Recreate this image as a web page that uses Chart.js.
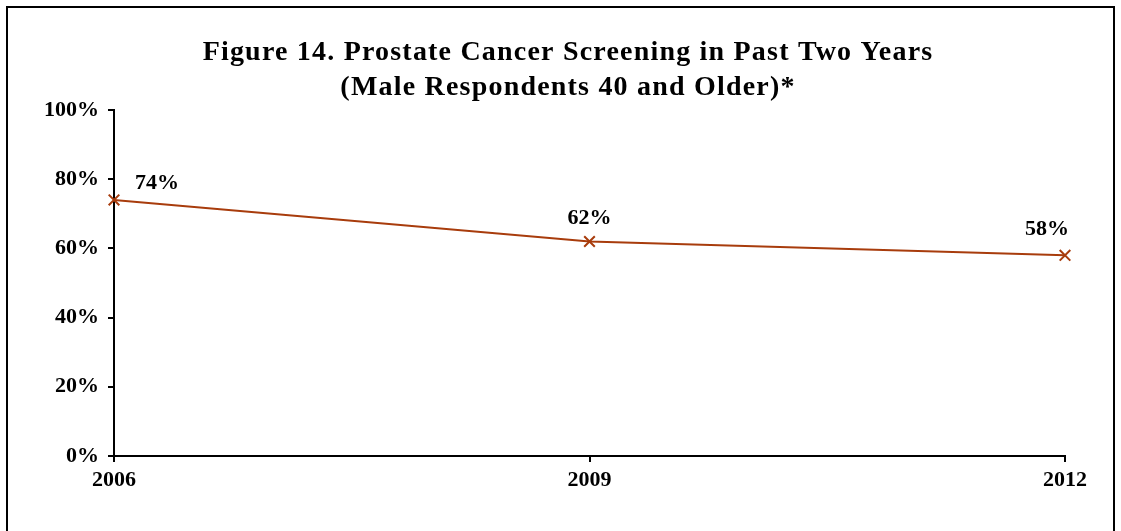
<!DOCTYPE html>
<html>
<head>
<meta charset="utf-8">
<script src="https://cdn.jsdelivr.net/npm/chart.js@4"></script>
<style>
  html, body { margin: 0; padding: 0; background: #fff; }
  #wrap { width: 1121px; height: 531px; position: relative; }
</style>
</head>
<body>
<div id="wrap"><canvas id="chart-prostate" width="1121" height="531"></canvas></div>
<script>
const years = ["2006", "2009", "2012"];
const screened = [74, 62, 58];
const yTicks = [0, 20, 40, 60, 80, 100];
const titleLines = ["Figure 14. Prostate Cancer Screening in Past Two Years", "(Male Respondents 40 and Older)*"];

const serif = "'Liberation Serif', 'Times New Roman', serif";
const lineColor = "#A83C0C";

// label offsets from each point (px)
const labelShift = [[43, -17], [0, -23], [-18, -26]];

const titleBlock = {
    id: "titleBlock",
    afterDraw(chart) {
        const ctx = chart.ctx;
        ctx.save();
        ctx.font = "bold 28px " + serif;
        ctx.letterSpacing = "1.2px";
        ctx.fillStyle = "#000";
        ctx.textAlign = "center";
        ctx.textBaseline = "middle";
        ctx.fillText(titleLines[0], 568, 53);
        ctx.fillText(titleLines[1], 568, 88);
        ctx.restore();
    },
};

const pointLabels = {
    id: "pointLabels",
    afterDatasetsDraw(chart) {
        const ctx = chart.ctx;
        const meta = chart.getDatasetMeta(0);
        ctx.save();
        ctx.font = "bold 22px " + serif;
        ctx.fillStyle = "#000";
        ctx.textAlign = "center";
        ctx.textBaseline = "middle";
        meta.data.forEach((pt, i) => {
            ctx.fillText(screened[i] + "%", pt.x + labelShift[i][0], pt.y + labelShift[i][1]);
        });
        ctx.restore();
    },
};

const frame = {
    id: "frame",
    afterDraw(chart) {
        const ctx = chart.ctx;
        ctx.save();
        ctx.strokeStyle = "#000";
        ctx.lineWidth = 2;
        ctx.strokeRect(7, 7, 1107, 540);
        ctx.restore();
    },
};

const data = {
    labels: years,
    datasets: [
        {
            label: "Screened",
            data: screened,
            borderColor: lineColor,
            backgroundColor: lineColor,
            borderWidth: 2,
            pointStyle: "crossRot",
            pointRadius: 7.5,
            pointBorderWidth: 2,
            pointBorderColor: lineColor,
            tension: 0,
        },
    ],
};

const config = {
    type: "line",
    data: data,
    plugins: [pointLabels, titleBlock, frame],
    options: {
        responsive: false,
        animation: false,
        layout: { padding: { left: 0, right: 56, top: 110, bottom: 0 } },
        plugins: {
            legend: { display: false },
            tooltip: { enabled: false },
            title: { display: false },
        },
        scales: {
            x: {
                offset: false,
                grid: { drawOnChartArea: false, drawTicks: true, tickLength: 6, color: "#000", lineWidth: 2 },
                border: { display: true, color: "#000", width: 2 },
                ticks: { color: "#000", padding: 5, font: { family: serif, size: 22, weight: "bold" } },
                afterFit(scale) { scale.height = 75; },
            },
            y: {
                min: 0,
                max: 100,
                afterBuildTicks(scale) { scale.ticks = yTicks.map(v => ({ value: v })); },
                grid: { drawOnChartArea: false, drawTicks: true, tickLength: 6, color: "#000", lineWidth: 2 },
                border: { display: true, color: "#000", width: 2 },
                ticks: {
                    color: "#000",
                    padding: 9,
                    font: { family: serif, size: 22, weight: "bold" },
                    callback: v => v + "%",
                },
                afterFit(scale) { scale.width = 114; },
            },
        },
    },
};

const canvas = document.getElementById("chart-prostate");
const chart = new Chart(canvas, config);
</script>
</body>
</html>
